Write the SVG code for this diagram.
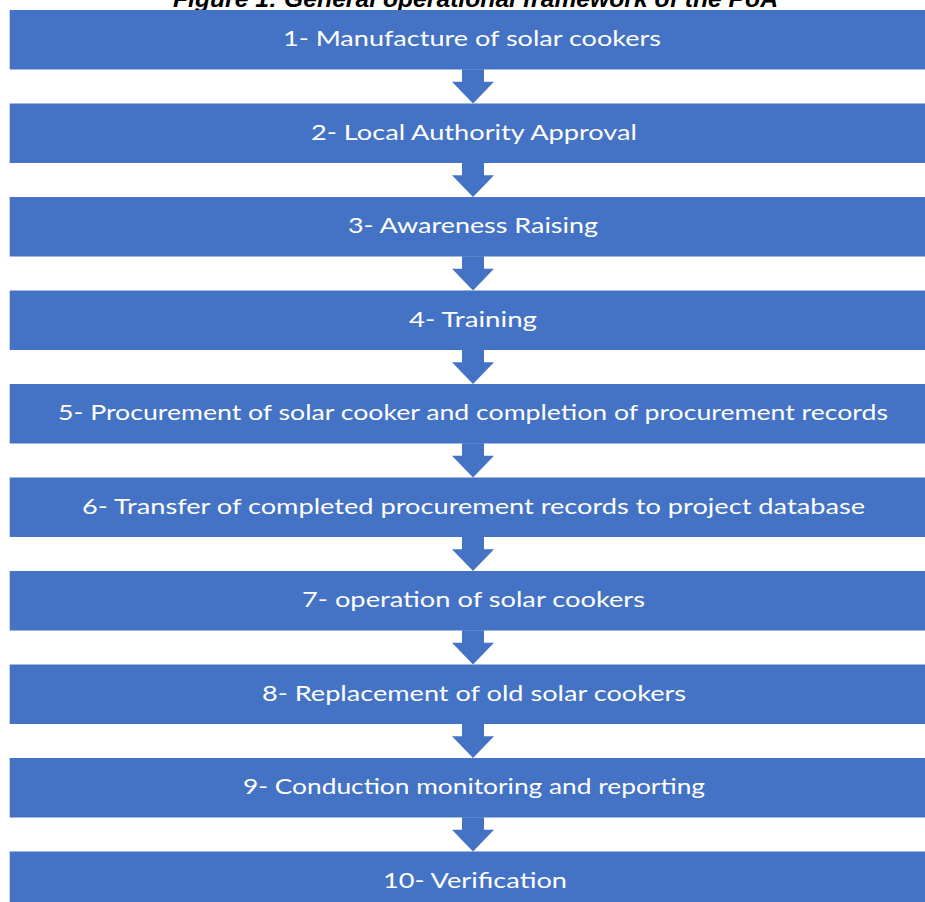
<svg xmlns="http://www.w3.org/2000/svg" width="925" height="902" viewBox="0 0 925 902">
<style>
.box{fill:#4472C4;}
.lbl{font-family:"Lato","Liberation Sans",sans-serif;font-size:22px;fill:#FFFFFF;text-anchor:middle;}
.cap{font-family:"Liberation Sans",Arial,sans-serif;font-size:24px;font-weight:bold;font-style:italic;fill:#000000;}
.arr{fill:#4472C4;}
</style>
<defs>
<path id="arrow" d="M462,0 L484,0 L484,12.5 L494,12.5 L473,34.3 L452,12.5 L462,12.5 Z"/>
</defs>
<rect width="925" height="902" fill="#FFFFFF"/>
<text class="cap" x="173" y="7" textLength="605" lengthAdjust="spacingAndGlyphs">Figure 1: General operational framework of the PoA</text>
<g id="connectors">
<use href="#arrow" class="arr" y="69.2"/>
<use href="#arrow" class="arr" y="162.7"/>
<use href="#arrow" class="arr" y="256.2"/>
<use href="#arrow" class="arr" y="349.7"/>
<use href="#arrow" class="arr" y="443.2"/>
<use href="#arrow" class="arr" y="536.7"/>
<use href="#arrow" class="arr" y="630.2"/>
<use href="#arrow" class="arr" y="723.7"/>
<use href="#arrow" class="arr" y="817.2"/>
</g>
<g id="n1"><rect class="box" x="9.7" y="10" width="916" height="59.5"/><text class="lbl" x="472" y="46" textLength="378" lengthAdjust="spacingAndGlyphs">1- Manufacture of solar cookers</text></g>
<g id="n2"><rect class="box" x="9.7" y="103.5" width="916" height="59.5"/><text class="lbl" x="474" y="139.5" textLength="326" lengthAdjust="spacingAndGlyphs">2- Local Authority Approval</text></g>
<g id="n3"><rect class="box" x="9.7" y="197" width="916" height="59.5"/><text class="lbl" x="473" y="233" textLength="250" lengthAdjust="spacingAndGlyphs">3- Awareness Raising</text></g>
<g id="n4"><rect class="box" x="9.7" y="290.5" width="916" height="59.5"/><text class="lbl" x="473" y="326.5" textLength="128" lengthAdjust="spacingAndGlyphs">4- Training</text></g>
<g id="n5"><rect class="box" x="9.7" y="384" width="916" height="59.5"/><text class="lbl" x="473" y="420" textLength="830" lengthAdjust="spacingAndGlyphs">5- Procurement of solar cooker and completion of procurement records</text></g>
<g id="n6"><rect class="box" x="9.7" y="477.5" width="916" height="59.5"/><text class="lbl" x="473.5" y="513.5" textLength="783" lengthAdjust="spacingAndGlyphs">6- Transfer of completed procurement records to project database</text></g>
<g id="n7"><rect class="box" x="9.7" y="571" width="916" height="59.5"/><text class="lbl" x="473.5" y="607" textLength="343" lengthAdjust="spacingAndGlyphs">7- operation of solar cookers</text></g>
<g id="n8"><rect class="box" x="9.7" y="664.5" width="916" height="59.5"/><text class="lbl" x="474" y="700.5" textLength="424" lengthAdjust="spacingAndGlyphs">8- Replacement of old solar cookers</text></g>
<g id="n9"><rect class="box" x="9.7" y="758" width="916" height="59.5"/><text class="lbl" x="474" y="794" textLength="462" lengthAdjust="spacingAndGlyphs">9- Conduction monitoring and reporting</text></g>
<g id="n10"><rect class="box" x="9.7" y="851.5" width="916" height="59.5"/><text class="lbl" x="475" y="887.5" textLength="184" lengthAdjust="spacingAndGlyphs">10- Verification</text></g>
</svg>
